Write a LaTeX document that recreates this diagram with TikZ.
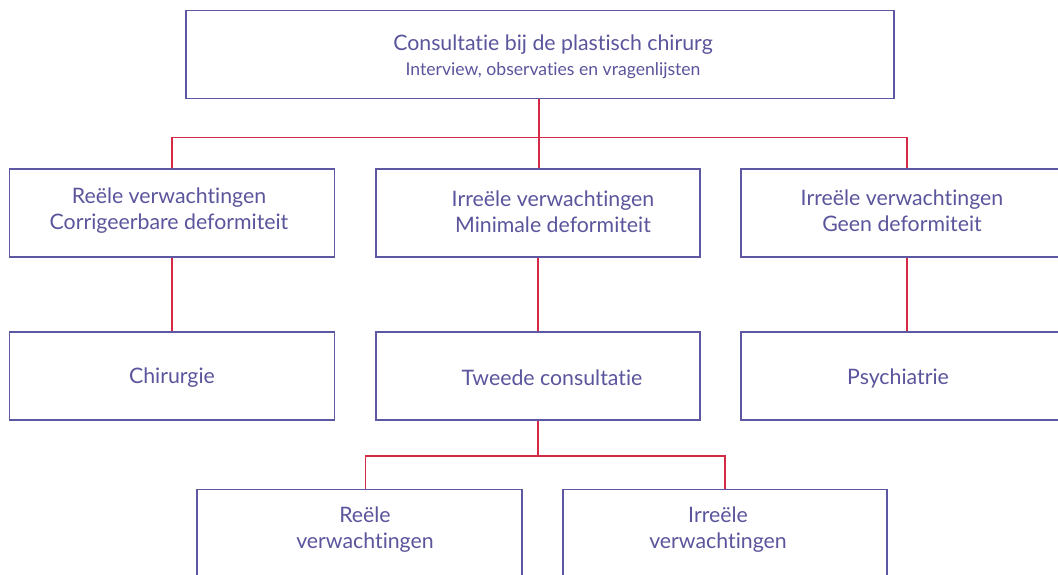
\documentclass[tikz,border=0pt]{standalone}
\usepackage{fontspec}
\setmainfont[Ligatures=NoCommon]{Lato}
\definecolor{boxc}{HTML}{5E58A2}
\definecolor{txtc}{HTML}{5A559C}
\definecolor{linec}{HTML}{D42A45}
\begin{document}
\begin{tikzpicture}[x=1pt,y=-1pt,
  box/.style={draw=boxc,line width=1.3pt,fill=white,rectangle,inner sep=0pt,minimum height=88pt},
  lbl/.style={text=txtc,align=center,inner sep=0pt,font=\fontsize{21.3}{26}\selectfont},
  conn/.style={draw=linec,line width=1.2pt}]
\useasboundingbox (0,0) rectangle (1058,575);
\begin{scope}
\clip (0,0) rectangle (1058,575);
% boxes
\node[box,minimum width=708pt] (top) at (540,54.5) {};
\node[box,minimum width=325pt] (a) at (172,213) {};
\node[box,minimum width=324pt] (b) at (538,213) {};
\node[box,minimum width=332pt] (c) at (907,213) {};
\node[box,minimum width=325pt] (a2) at (172,376) {};
\node[box,minimum width=324pt] (b2) at (538,376) {};
\node[box,minimum width=332pt] (c2) at (907,376) {};
\node[box,minimum width=325pt] (d) at (359.5,533.5) {};
\node[box,minimum width=324pt] (e) at (725,533.5) {};
% labels
\node[lbl] (topt) at (553,45) {Consultatie bij de plastisch chirurg};
\node[lbl,font=\fontsize{17.6}{22}\selectfont] (tops) at (553,71) {Interview, observaties en vragenlijsten};
\node[lbl] (at) at (169,211) {Reële verwachtingen\\Corrigeerbare deformiteit};
\node[lbl] (bt) at (553,212) {Irreële verwachtingen\\Minimale deformiteit};
\node[lbl] (ct) at (902,211) {Irreële verwachtingen\\Geen deformiteit};
\node[lbl] (a2t) at (172,378) {Chirurgie};
\node[lbl] (b2t) at (552,378) {Tweede consultatie};
\node[lbl] (c2t) at (898,378) {Psychiatrie};
\node[lbl] (dt) at (365,530) {Reële\\verwachtingen};
\node[lbl] (et) at (718,530) {Irreële\\verwachtingen};
% connectors
\coordinate (h1) at (539,137.5);
\coordinate (h2) at (538,456);
\draw[conn] (top.south -| h1) -- (h1);
\draw[conn] (a.north) |- (h1) -| (c.north);
\draw[conn] (h1) -- (b.north -| h1);
\draw[conn] (a.south) -- (a2.north);
\draw[conn] (b.south) -- (b2.north);
\draw[conn] (c.south) -- (c2.north);
\draw[conn] (b2.south) -- (h2);
\draw[conn] ([xshift=6pt]d.north) |- (h2) -| (e.north);
\end{scope}
\end{tikzpicture}
\end{document}
